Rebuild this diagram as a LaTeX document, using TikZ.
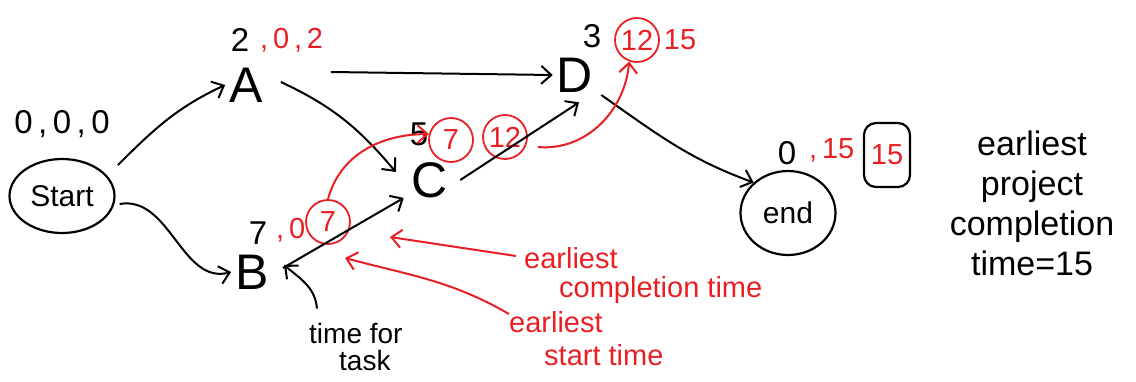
\documentclass[tikz,border=0pt]{standalone}
\usepackage{fontspec}
\setmainfont{Liberation Sans}
\usetikzlibrary{shapes.geometric,arrows.meta}
\definecolor{hr}{RGB}{232,32,36}
\begin{document}
\begin{tikzpicture}[x=1pt,y=-1pt,
  every node/.style={inner sep=4pt},
  letter/.style={font=\fontsize{50}{52}\selectfont},
  bnum/.style={font=\fontsize{33}{35}\selectfont},
  rnum/.style={text=hr,font=\fontsize{29}{31}\selectfont},
  rcirc/.style={draw=hr,line width=1.8pt,circle,minimum size=44pt,inner sep=0pt,text=hr,font=\fontsize{29}{31}\selectfont},
  oval/.style={draw,line width=2.2pt,ellipse,font=\fontsize{30}{32}\selectfont},
  note/.style={font=\fontsize{28}{32}\selectfont,align=left},
  rnote/.style={text=hr,font=\fontsize{29}{31}\selectfont,align=left,inner sep=2pt},
  arr/.style={draw,line width=2pt,-{Straight Barb[length=10pt,width=18pt,line width=2pt]}},
  rarr/.style={draw=hr,line width=2pt,-{Straight Barb[length=10pt,width=18pt,line width=2pt]}}]
\useasboundingbox (0,0) rectangle (1136,381);

% start
\node[oval,minimum width=105pt,minimum height=74pt] (start) at (62,196) {Start};
\node[bnum] (s0) at (62,124) {0\,,\,0\,,\,0};

% A
\node[letter] (A) at (246,85) {A};
\node[bnum] (a2) at (240,40) {2};
\node[rnum,anchor=west] (a0) at (256,40) {,\,0\,,\,2};

% B
\node[letter] (B) at (252,272) {B};
\node[bnum] (b7) at (258,233) {7};
\node[rnum,anchor=west] (b0) at (272,230) {,\,0};
\node[rcirc] (bc7) at (328,222) {7};

% C
\node[letter] (C) at (430,180) {C};
\node[bnum] (c5) at (419,134) {5};
\node[rcirc] (cc7) at (451,140) {7};
\node[rcirc] (cc12) at (505,137) {12};

% D
\node[letter] (D) at (575,75) {D};
\node[bnum] (d3) at (592,36) {3};
\node[rcirc] (dc12) at (637,40) {12};
\node[rnum] (d15) at (680,40) {15};

% end
\node[oval,minimum width=95pt,minimum height=84pt] (end) at (788,213) {end};
\node[bnum] (e0) at (787,153) {0};
\node[rnum,anchor=west] (e15) at (805,150) {,\,15};
\node[draw,line width=2.2pt,rounded corners=12pt,minimum width=46pt,minimum height=64pt,text=hr,font=\fontsize{29}{31}\selectfont] (ebox) at (887,155) {15};
\node[note,align=center,font=\fontsize{34}{40}\selectfont] (ept) at (1032,203) {earliest\\project\\completion\\time=15};

% annotations
\node[rnote,anchor=west] (ect1) at (522,258) {earliest};
\node[rnote,anchor=west] (ect2) at (557,290) {completion time};
\node[rnote,anchor=west] (est1) at (507,322) {earliest};
\node[rnote,anchor=west] (est2) at (542,355) {start time};
\node[note,anchor=west] (tft1) at (305,333) {time for};
\node[note,anchor=west] (tft2) at (335,360) {task};
\coordinate (ectTip) at (390,237);
\coordinate (estTip) at (345,258);
\coordinate (tftTip) at (284,265);

% black arrows
\draw[arr] ([shift={(18,-4)}]start.north east) to[out=45,in=205] (A.west);
\draw[arr] ([shift={(4,8)}]start.east) to[out=10,in=195] (B.west);
\draw[arr] ([shift={(64,-13)}]A.east) -- (D.west);
\draw[arr] ([shift={(14,-3)}]A.east) to[out=-25,in=130] ([shift={(-12,-8)}]C.west);
\draw[arr] ([shift={(10,-4)}]B.east) -- ([shift={(-4,-4)}]C.south west);
\draw[arr] ([shift={(8,0)}]C.east) -- ([shift={(4,6)}]D.south);
\draw[arr] ([shift={(4,20)}]D.east) to[out=-35,in=160] (end.north west);
\draw[arr] (tft1.north west) ++(12,-10) to[out=95,in=-40] (tftTip);

% red arrows
\draw[rarr] (bc7.north) to[out=75,in=180] (cc7.165);
\draw[rarr] ([shift={(10,10)}]cc12.east) to[out=-5,in=-95] (dc12.250);
\draw[rarr] ([shift={(-6,-2)}]ect1.west) -- (ectTip);
\draw[rarr] ([shift={(2,-8)}]est1.west) to[out=150,in=-15] (estTip);
\end{tikzpicture}
\end{document}
